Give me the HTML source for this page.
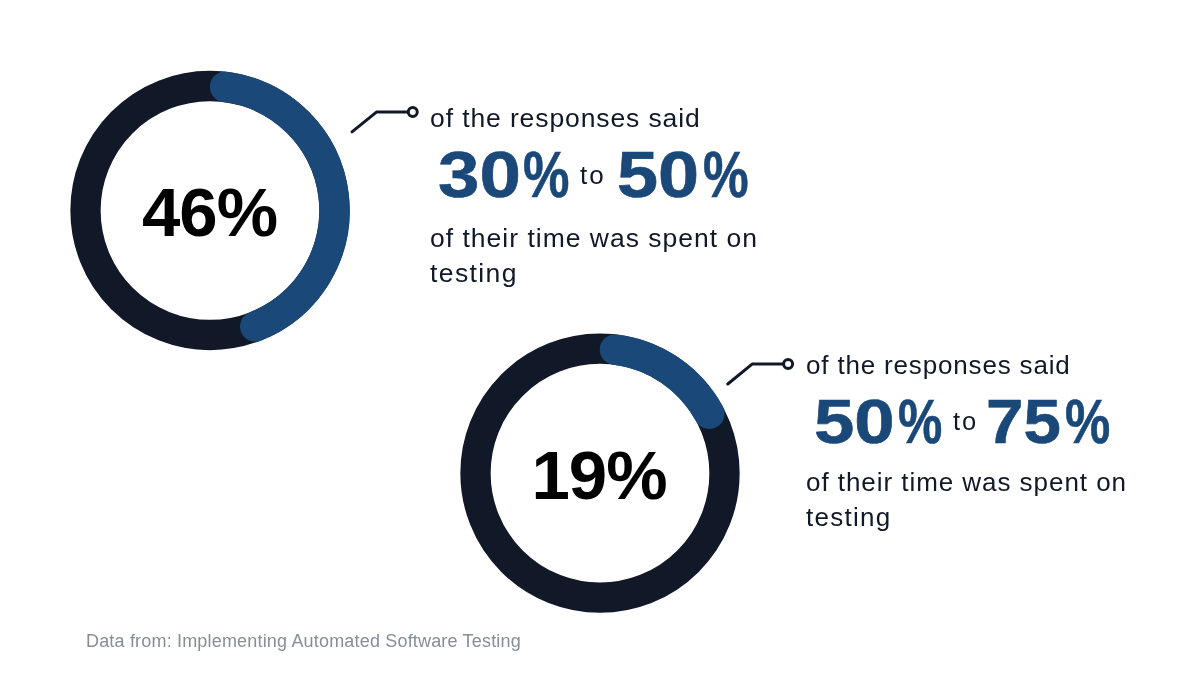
<!DOCTYPE html>
<html lang="en">
<head>
<meta charset="utf-8">
<title>Time spent on testing</title>
<style>
  html, body { margin: 0; padding: 0; }
  body {
    width: 1200px; height: 700px; overflow: hidden; position: relative;
    background: #ffffff;
    font-family: "Liberation Sans", sans-serif;
    color: #111827;
  }
  svg.art { position: absolute; left: 0; top: 0; width: 1200px; height: 700px; }
  .pct {
    position: absolute; white-space: nowrap;
    font-weight: 700; color: #000; font-size: 69px; line-height: 68px; letter-spacing: -1px;
    text-align: center;
  }
  .p1 { left: 109.5px; top: 179px; width: 200px; }
  .p2 { left: 499px; top: 442.3px; width: 200px; }
  .blk { position: absolute; }
  .ln { position: absolute; white-space: nowrap; left: 0; }
  .b1 .ln { font-size: 26.5px; line-height: 35px; letter-spacing: 1px; }
  .b2 .ln { font-size: 26px; line-height: 34px; letter-spacing: 0.95px; }
  .big { position: absolute; left: 0; white-space: nowrap; font-weight: 700; color: #1a4879; -webkit-text-stroke: 0.6px #1a4879; }
  .big span { position: relative; display: inline-block; width: 0; vertical-align: baseline; transform-origin: 0 0; }
  .to { position: absolute; white-space: nowrap; }
  .foot {
    position: absolute; left: 86px; top: 629px; white-space: nowrap;
    font-size: 18px; line-height: 24px; color: #878d99; letter-spacing: 0.18px;
  }
</style>
</head>
<body>

<svg class="art" viewBox="0 0 1200 700">
  <!-- ring 1 : 46% -->
  <circle cx="210" cy="210.5" r="124.5" fill="none" stroke="#111827" stroke-width="30.3"/>
  <path d="M225.09 86.92A124.5 124.5 0 0 1 255.35 326.45" fill="none" stroke="#1a4879" stroke-width="30.6" stroke-linecap="round"/>
  <!-- ring 2 : 19% -->
  <circle cx="600" cy="473.2" r="124.5" fill="none" stroke="#111827" stroke-width="30.3"/>
  <path d="M615.09 349.62A124.5 124.5 0 0 1 709.35 413.68" fill="none" stroke="#1a4879" stroke-width="30.6" stroke-linecap="round"/>
  <!-- connector 1 -->
  <path d="M352 131.9L376.4 112.1L407.6 112.1" fill="none" stroke="#111827" stroke-width="3" stroke-linecap="round" stroke-linejoin="round"/>
  <circle cx="412.75" cy="112.1" r="4.5" fill="#fff" stroke="#111827" stroke-width="3"/>
  <!-- connector 2 -->
  <path d="M727.8 384L752.1 364.1L783 364.1" fill="none" stroke="#111827" stroke-width="3" stroke-linecap="round" stroke-linejoin="round"/>
  <circle cx="788.1" cy="364.1" r="4.5" fill="#fff" stroke="#111827" stroke-width="3"/>
</svg>

<div class="pct p1">46%</div>
<div class="pct p2">19%</div>

<div class="blk b1" style="left:430px; top:0;">
  <div class="ln" style="top:100.6px; letter-spacing:0.89px;">of the responses said</div>
  <div class="big" style="top:140px; font-size:64px; line-height:70px;"><span class="dg" style="left:7.57px; transform:scaleX(1.1640);">30</span><span class="pc" style="left:93.36px; transform:scaleX(0.8162);">%</span></div>
  <div class="to"  style="left:150px; top:160px; font-size:26px; line-height:30px; letter-spacing:2px;">to</div>
  <div class="big" style="top:140px; font-size:64px; line-height:70px;"><span class="dg" style="left:187.34px; transform:scaleX(1.1539);">50</span><span class="pc" style="left:273.13px; transform:scaleX(0.8021);">%</span></div>
  <div class="ln" style="top:220.6px;">of their time was spent on</div>
  <div class="ln" style="top:255.6px; letter-spacing:1.4px;">testing</div>
</div>

<div class="blk b2" style="left:806px; top:0;">
  <div class="ln" style="top:348px; letter-spacing:0.83px;">of the responses said</div>
  <div class="big" style="top:386px; font-size:62.5px; line-height:70px;"><span class="dg" style="left:7.61px; transform:scaleX(1.1611);">50</span><span class="pc" style="left:92.20px; transform:scaleX(0.7967);">%</span></div>
  <div class="to"  style="left:147px; top:406px; font-size:25.5px; line-height:30px; letter-spacing:2px;">to</div>
  <div class="big" style="top:386px; font-size:62.5px; line-height:70px;"><span class="dg" style="left:179.80px; transform:scaleX(1.0768);">75</span><span class="pc" style="left:259.21px; transform:scaleX(0.8144);">%</span></div>
  <div class="ln" style="top:464.6px;">of their time was spent on</div>
  <div class="ln" style="top:499.5px; letter-spacing:1.25px;">testing</div>
</div>

<div class="foot">Data from: Implementing Automated Software Testing</div>

</body>
</html>
